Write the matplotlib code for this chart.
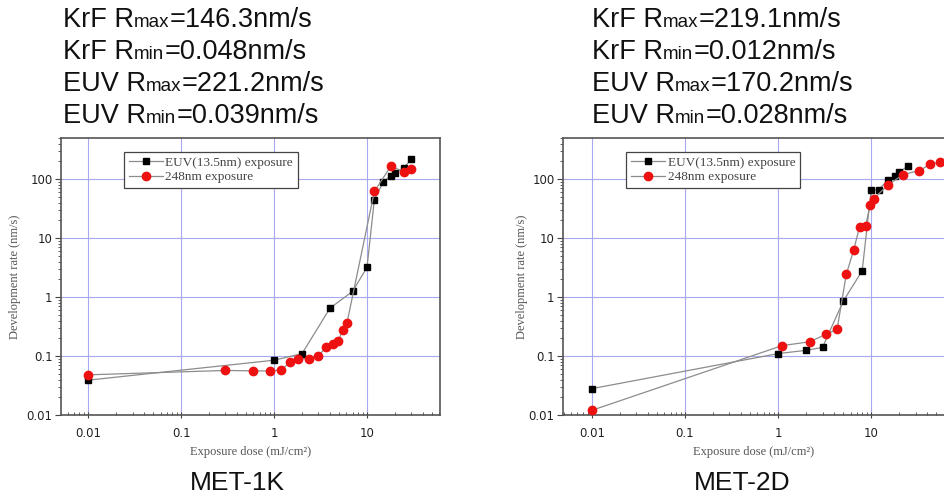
import matplotlib
matplotlib.use('Agg')
import matplotlib.pyplot as plt
from matplotlib.ticker import FixedLocator, FixedFormatter, LogLocator, NullFormatter

# MET-1K data
euv_1k_x = [0.01, 1, 2, 4, 7, 10, 12, 15, 18, 20, 25, 30]
euv_1k_y = [0.039, 0.085, 0.11, 0.65, 1.25, 3.2, 45, 90, 115, 128, 155, 221.2]
krf_1k_x = [0.01, 0.3, 0.6, 0.9, 1.2, 1.5, 1.8, 2.4, 3.0, 3.6, 4.3, 4.9, 5.5, 6.1, 12, 18, 25, 30]
krf_1k_y = [0.048, 0.057, 0.056, 0.056, 0.058, 0.08, 0.09, 0.09, 0.10, 0.14, 0.16, 0.18, 0.28, 0.37, 62, 165, 135, 146.3]

# MET-2D data
euv_2d_x = [0.01, 1, 2, 3, 5, 8, 10, 12, 15, 18, 20, 25]
euv_2d_y = [0.028, 0.11, 0.125, 0.14, 0.85, 2.8, 66, 66, 96, 115, 131, 170.2]
krf_2d_x = [0.01, 1.1, 2.2, 3.3, 4.3, 5.4, 6.5, 7.5, 8.7, 9.7, 10.7, 15, 22, 33, 43, 55]
krf_2d_y = [0.012, 0.15, 0.175, 0.236, 0.284, 2.43, 6.4, 15.6, 15.8, 36, 47, 79, 120, 140, 180, 195]

titles = ['MET-1K', 'MET-2D']
header_1k = [('KrF R', 'max', '=146.3nm/s'), ('KrF R', 'min', '=0.048nm/s'),
             ('EUV R', 'max', '=221.2nm/s'), ('EUV R', 'min', '=0.039nm/s')]
header_2d = [('KrF R', 'max', '=219.1nm/s'), ('KrF R', 'min', '=0.012nm/s'),
             ('EUV R', 'max', '=170.2nm/s'), ('EUV R', 'min', '=0.028nm/s')]

x_ticks = [0.01, 0.1, 1, 10]
x_labels = ['0.01', '0.1', '1', '10']
y_ticks = [0.01, 0.1, 1, 10, 100]
y_labels = ['0.01', '0.1', '1', '10', '100']

W, H = 945, 499
fig = plt.figure(figsize=(9.45, 4.99), dpi=100)

serif = ['Liberation Serif', 'DejaVu Serif']
sans = ['Liberation Sans', 'DejaVu Sans']


def header(x0, y_base, parts):
    # draw "KrF R" + small "max" + "=146.3nm/s" side by side
    renderer = fig.canvas.get_renderer()
    x = x0
    for i, s in enumerate(parts):
        size = 13.5 if i == 1 else 19.5
        t = fig.text(x / W, 1 - y_base / H, s, fontsize=size, family=sans,
                     va='baseline', ha='left', color='#111111')
        bb = t.get_window_extent(renderer)
        x += bb.width


def panel(rect, ex, ey, kx, ky, xlim, title, title_x, ylab_x):
    ax = fig.add_axes(rect)
    ax.set_xscale('log')
    ax.set_yscale('log')
    ax.plot(ex, ey, '-', color='#8c8c8c', lw=0.9, marker='s', ms=5,
            mfc='black', mec='black', label='EUV(13.5nm) exposure', zorder=3)
    ax.plot(kx, ky, '-', color='#8c8c8c', lw=0.9, marker='o', ms=6,
            mfc='#ee1111', mec='#ee1111', label='248nm exposure', zorder=3)
    ax.set_xlim(*xlim)
    ax.set_ylim(0.01, 500)
    ax.grid(True, which='major', color='#a8a8f0', lw=0.8)
    ax.set_axisbelow(True)

    ax.xaxis.set_major_locator(FixedLocator(x_ticks))
    ax.xaxis.set_major_formatter(FixedFormatter(x_labels))
    ax.yaxis.set_major_locator(FixedLocator(y_ticks))
    ax.yaxis.set_major_formatter(FixedFormatter(y_labels))
    ax.xaxis.set_minor_locator(LogLocator(base=10, subs=range(2, 10)))
    ax.yaxis.set_minor_locator(LogLocator(base=10, subs=range(2, 10)))
    ax.xaxis.set_minor_formatter(NullFormatter())
    ax.yaxis.set_minor_formatter(NullFormatter())
    ax.tick_params(axis='x', which='major', direction='inout', length=5, pad=6,
                   labelsize=8.5, labelcolor='#222222', color='#444444')
    ax.tick_params(axis='x', which='minor', direction='in', length=2.5, color='#444444')
    ax.tick_params(axis='y', which='major', direction='out', length=4, pad=2,
                   labelsize=8.5, labelcolor='#222222', color='#444444')
    ax.tick_params(axis='y', which='minor', direction='out', length=2, color='#444444')
    for sp in ax.spines.values():
        sp.set_color('#555555')
        sp.set_linewidth(1.2)

    ax.set_xlabel('Exposure dose (mJ/cm²)', fontsize=9, family=serif, color='#555555')
    ax.set_ylabel('Development rate (nm/s)', fontsize=9, family=serif, color='#555555')
    ax.xaxis.set_label_coords(0.5, -0.112)
    ax.yaxis.set_label_coords(ylab_x, 0.5)

    leg = ax.legend(loc='upper left', bbox_to_anchor=(0.166, 0.949), borderaxespad=0,
                    fancybox=False, framealpha=1, edgecolor='#444444', handlelength=2.6,
                    handletextpad=0.2, borderpad=0.35, labelspacing=0.15,
                    prop={'family': serif, 'size': 9.5})
    leg.get_frame().set_linewidth(0.9)
    for t in leg.get_texts():
        t.set_color('#444444')

    fig.text(title_x / W, 1 - 483 / H, title, fontsize=19, family=sans,
             ha='center', va='center', color='#111111')
    return ax


panel([61 / W, 1 - 415 / H, 379 / W, 277 / H], euv_1k_x, euv_1k_y, krf_1k_x, krf_1k_y,
      (0.0051, 61), titles[0], 237, -0.106)
panel([563 / W, 1 - 415 / H, 382 / W, 277 / H], euv_2d_x, euv_2d_y, krf_2d_x, krf_2d_y,
      (0.0049, 62), titles[1], 742, -0.092)

for i, parts in enumerate(header_1k):
    header(63, 27 + 32 * i, parts)
for i, parts in enumerate(header_2d):
    header(592, 27 + 32 * i, parts)

fig.savefig('out.png', dpi=100)
